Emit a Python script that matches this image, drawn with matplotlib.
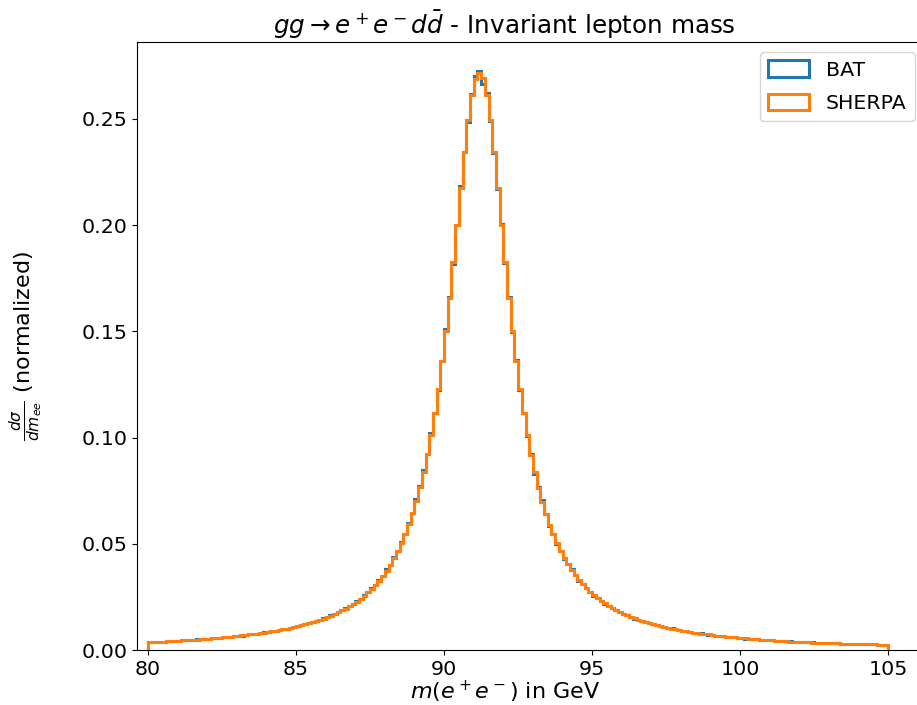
import numpy as np
import matplotlib
matplotlib.use("Agg")
import matplotlib.pyplot as plt

# 200 bins from 80 to 105 GeV, normalized dsigma/dm values
M_LOW = 80.0
M_HIGH = 105.0
N_BINS = 200

sherpa = [
    0.0036, 0.0037, 0.0038, 0.0039, 0.0040, 0.0041, 0.0042, 0.0043, 0.0044, 0.0045,
    0.0046, 0.0047, 0.0049, 0.0049, 0.0051, 0.0052, 0.0053, 0.0055, 0.0057, 0.0058,
    0.0060, 0.0061, 0.0063, 0.0065, 0.0066, 0.0069, 0.0071, 0.0073, 0.0075, 0.0077,
    0.0080, 0.0082, 0.0085, 0.0088, 0.0091, 0.0094, 0.0097, 0.0101, 0.0104, 0.0108,
    0.0112, 0.0117, 0.0121, 0.0125, 0.0131, 0.0136, 0.0142, 0.0148, 0.0155, 0.0162,
    0.0169, 0.0177, 0.0186, 0.0195, 0.0205, 0.0216, 0.0228, 0.0241, 0.0255, 0.0271,
    0.0288, 0.0306, 0.0327, 0.0349, 0.0374, 0.0401, 0.0431, 0.0464, 0.0502, 0.0544,
    0.0592, 0.0645, 0.0703, 0.0768, 0.0840, 0.0921, 0.1012, 0.1114, 0.1230, 0.1360,
    0.1502, 0.1658, 0.1825, 0.2000, 0.2176, 0.2344, 0.2494, 0.2614, 0.2690, 0.2718,
    0.2692, 0.2615, 0.2495, 0.2345, 0.2175, 0.2001, 0.1825, 0.1658, 0.1502, 0.1360,
    0.1230, 0.1114, 0.1011, 0.0919, 0.0836, 0.0764, 0.0699, 0.0642, 0.0590, 0.0544,
    0.0503, 0.0466, 0.0433, 0.0403, 0.0376, 0.0351, 0.0329, 0.0309, 0.0290, 0.0273,
    0.0258, 0.0244, 0.0231, 0.0219, 0.0208, 0.0198, 0.0188, 0.0179, 0.0171, 0.0165,
    0.0156, 0.0149, 0.0143, 0.0137, 0.0131, 0.0126, 0.0121, 0.0117, 0.0113, 0.0109,
    0.0105, 0.0101, 0.0098, 0.0094, 0.0091, 0.0088, 0.0085, 0.0082, 0.0080, 0.0077,
    0.0075, 0.0073, 0.0070, 0.0068, 0.0066, 0.0065, 0.0063, 0.0061, 0.0059, 0.0058,
    0.0056, 0.0055, 0.0053, 0.0052, 0.0050, 0.0049, 0.0048, 0.0047, 0.0046, 0.0044,
    0.0043, 0.0042, 0.0041, 0.0040, 0.0040, 0.0039, 0.0038, 0.0037, 0.0036, 0.0035,
    0.0035, 0.0034, 0.0033, 0.0033, 0.0032, 0.0031, 0.0031, 0.0030, 0.0030, 0.0029,
    0.0029, 0.0028, 0.0028, 0.0027, 0.0027, 0.0026, 0.0026, 0.0025, 0.0025, 0.0024,
]

bat = [
    0.0036, 0.0037, 0.0038, 0.0039, 0.0040, 0.0041, 0.0042, 0.0043, 0.0044, 0.0045,
    0.0047, 0.0047, 0.0048, 0.0050, 0.0051, 0.0052, 0.0054, 0.0055, 0.0056, 0.0058,
    0.0060, 0.0062, 0.0063, 0.0065, 0.0067, 0.0068, 0.0071, 0.0073, 0.0076, 0.0077,
    0.0080, 0.0083, 0.0085, 0.0088, 0.0091, 0.0095, 0.0097, 0.0101, 0.0105, 0.0108,
    0.0113, 0.0116, 0.0121, 0.0127, 0.0131, 0.0137, 0.0142, 0.0149, 0.0155, 0.0163,
    0.0170, 0.0178, 0.0187, 0.0196, 0.0207, 0.0217, 0.0230, 0.0242, 0.0257, 0.0272,
    0.0292, 0.0307, 0.0331, 0.0350, 0.0379, 0.0402, 0.0437, 0.0466, 0.0508, 0.0546,
    0.0600, 0.0647, 0.0712, 0.0770, 0.0848, 0.0923, 0.1022, 0.1116, 0.1222, 0.1362,
    0.1512, 0.1660, 0.1818, 0.2002, 0.2183, 0.2346, 0.2486, 0.2616, 0.2700, 0.2726,
    0.2665, 0.2622, 0.2490, 0.2340, 0.2168, 0.2004, 0.1820, 0.1661, 0.1498, 0.1363,
    0.1226, 0.1117, 0.1006, 0.0922, 0.0829, 0.0766, 0.0705, 0.0640, 0.0582, 0.0546,
    0.0497, 0.0468, 0.0428, 0.0405, 0.0381, 0.0352, 0.0326, 0.0310, 0.0292, 0.0272,
    0.0256, 0.0245, 0.0232, 0.0218, 0.0207, 0.0199, 0.0189, 0.0178, 0.0170, 0.0163,
    0.0157, 0.0148, 0.0143, 0.0138, 0.0131, 0.0125, 0.0121, 0.0118, 0.0113, 0.0108,
    0.0105, 0.0102, 0.0098, 0.0093, 0.0091, 0.0088, 0.0084, 0.0082, 0.0080, 0.0078,
    0.0075, 0.0072, 0.0070, 0.0068, 0.0066, 0.0064, 0.0063, 0.0061, 0.0060, 0.0058,
    0.0056, 0.0054, 0.0053, 0.0052, 0.0051, 0.0049, 0.0048, 0.0047, 0.0045, 0.0044,
    0.0043, 0.0042, 0.0041, 0.0041, 0.0040, 0.0039, 0.0038, 0.0037, 0.0036, 0.0036,
    0.0035, 0.0034, 0.0033, 0.0032, 0.0032, 0.0031, 0.0031, 0.0030, 0.0029, 0.0029,
    0.0029, 0.0028, 0.0027, 0.0027, 0.0026, 0.0026, 0.0026, 0.0025, 0.0025, 0.0024,
]

edges = np.linspace(M_LOW, M_HIGH, N_BINS + 1)
centers = 0.5 * (edges[:-1] + edges[1:])

plt.rcParams['font.size'] = 14.75

fig = plt.figure(figsize=(9.17, 7.05), dpi=100)
ax = fig.add_axes([137 / 917, 55 / 705, 788 / 917, 608 / 705])

ax.hist(centers, bins=edges, weights=bat, histtype='step', lw=2.2, label='BAT')
ax.hist(centers, bins=edges, weights=sherpa, histtype='step', lw=2.2, label='SHERPA')

ax.set_xlim(79.63, 106.24)
ax.set_title(r'$gg \rightarrow e^+e^-d\bar{d}$ - Invariant lepton mass', x=0.4657)
ax.set_xlabel(r'$m(e^+e^-)$ in GeV', fontsize=16)
ax.xaxis.set_label_coords(0.467, -0.048)
ax.set_ylabel(r'$\frac{d\sigma}{dm_{ee}}$ (normalized)', fontsize=16)
ax.yaxis.set_label_coords(-0.117, 0.5)
ax.legend(loc='upper right', labelspacing=0.7, handleheight=0.85)

fig.savefig("out.png", dpi=100)
